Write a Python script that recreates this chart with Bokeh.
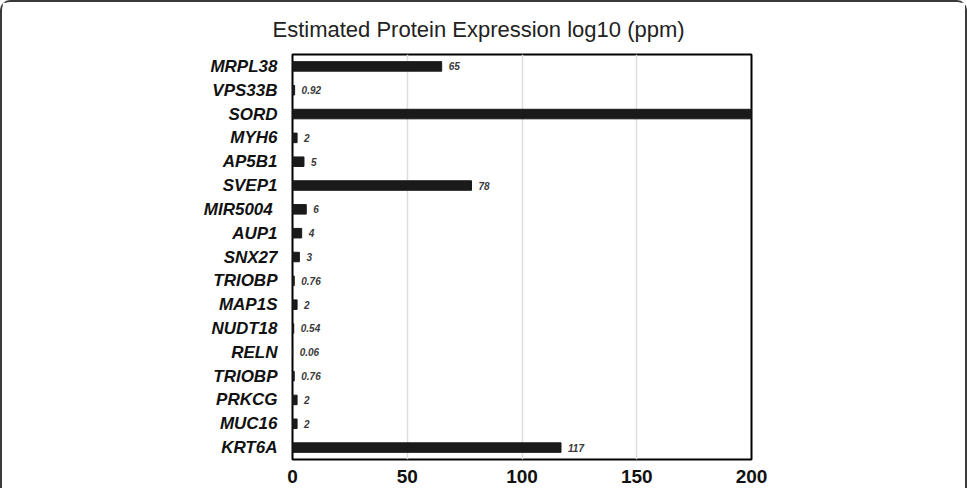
from bokeh.plotting import figure
from bokeh.models import FixedTicker, ColumnDataSource
from bokeh.core.properties import value
from bokeh.embed import file_html
from bokeh.resources import INLINE

genes = ["MRPL38", "VPS33B", "SORD", "MYH6", "AP5B1", "SVEP1", "MIR5004\u00a0", "AUP1",
         "SNX27", "TRIOBP", "MAP1S", "NUDT18", "RELN", "TRIOBP", "PRKCG", "MUC16", "KRT6A"]
expression = [65, 0.92, 200, 2, 5, 78, 6, 4, 3, 0.76, 2, 0.54, 0.06, 0.76, 2, 2, 117]
value_labels = ["65", "0.92", "", "2", "5", "78", "6", "4", "3", "0.76", "2", "0.54",
                "0.06", "0.76", "2", "2", "117"]
x_ticks = [0, 50, 100, 150, 200]

pos = list(range(len(genes)))
src = ColumnDataSource(dict(y=pos, v=expression, lab=value_labels))

p = figure(width=967, height=488, output_backend="svg", toolbar_location=None,
           x_range=(0, 200), y_range=(len(genes) - 0.5, -0.5),
           title="Estimated Protein Expression log10 (ppm)",
           min_border_left=290, min_border_right=218, min_border_top=52, min_border_bottom=31)

p.hbar(y="y", right="v", left=0, height=0.4, source=src, color="#1a1a1a")
p.text(x="v", y="y", text="lab", source=src, x_offset=7, text_baseline="middle",
       text_align="left", text_font=value("Liberation Sans"), text_font_size="10px",
       text_font_style="bold italic", text_color="#3a3a3a")

p.title.text_font = "Liberation Sans"
p.title.text_font_size = "22px"
p.title.text_font_style = "normal"
p.title.text_color = "#222222"
p.title.align = "left"
p.title.offset = -20
p.title.standoff = 25

p.outline_line_color = "black"
p.outline_line_width = 2
p.outline_line_alpha = 1

p.xaxis.ticker = FixedTicker(ticks=x_ticks)
p.xaxis.axis_line_color = None
p.xaxis.major_tick_line_color = None
p.xaxis.minor_tick_line_color = None
p.xaxis.major_tick_out = 0
p.xaxis.major_tick_in = 0
p.xaxis.major_label_standoff = 10
p.xaxis.major_label_text_font = "Liberation Sans"
p.xaxis.major_label_text_font_size = "19px"
p.xaxis.major_label_text_font_style = "bold"
p.xaxis.major_label_text_color = "#111111"

p.yaxis.ticker = FixedTicker(ticks=pos)
p.yaxis.major_label_overrides = {i: g for i, g in enumerate(genes)}
p.yaxis.axis_line_color = None
p.yaxis.major_tick_line_color = None
p.yaxis.minor_tick_line_color = None
p.yaxis.major_tick_out = 0
p.yaxis.major_tick_in = 0
p.yaxis.major_label_standoff = 15
p.yaxis.major_label_text_font = "Liberation Sans"
p.yaxis.major_label_text_font_size = "17px"
p.yaxis.major_label_text_font_style = "bold italic"
p.yaxis.major_label_text_color = "#111111"

p.ygrid.grid_line_color = None
p.xgrid.grid_line_color = "#dddddd"
p.xgrid.grid_line_width = 1.5

p.styles = {"border": "2px solid #3a3a3a", "border-bottom": "none",
            "border-radius": "10px 10px 0 0", "box-sizing": "border-box"}

open("out.html", "w").write(file_html(p, INLINE))
